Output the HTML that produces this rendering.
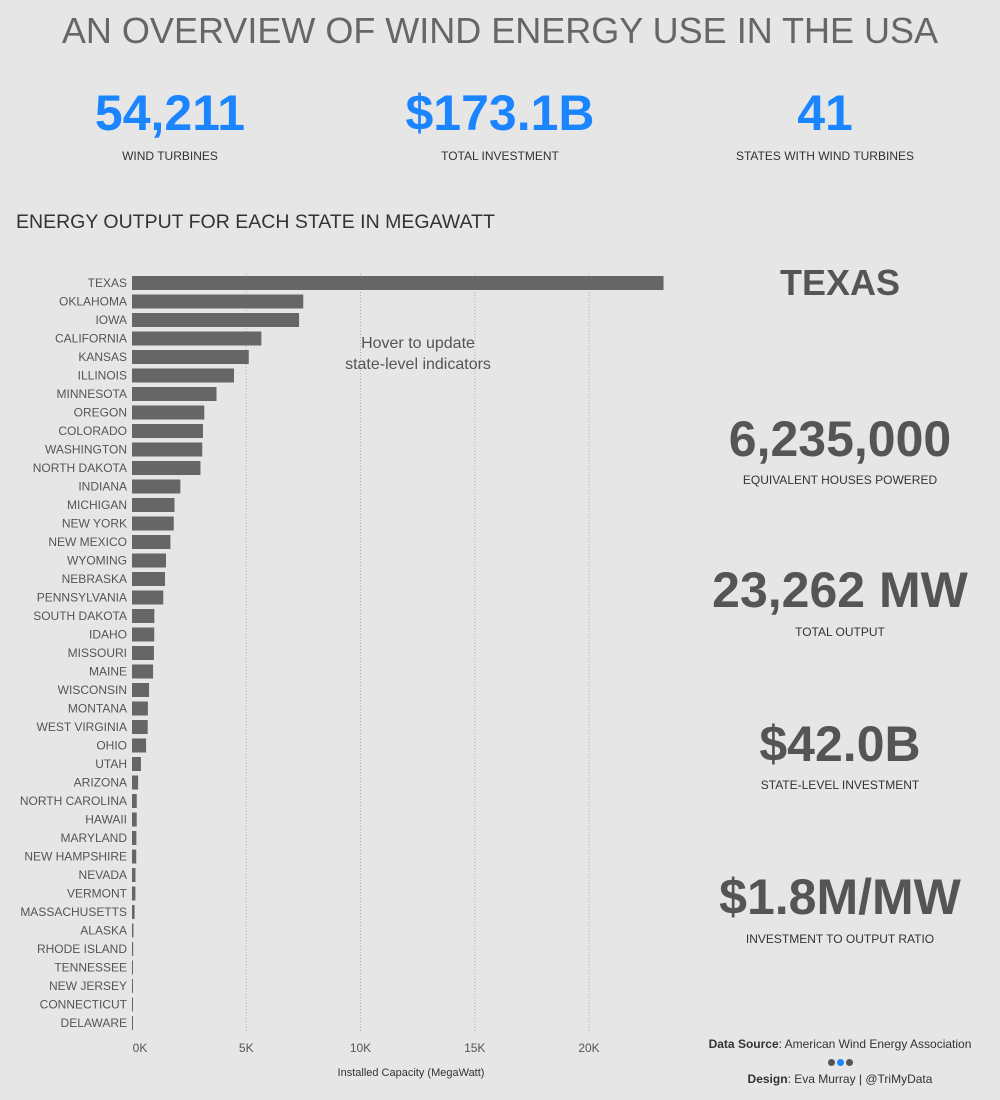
<!DOCTYPE html>
<html><head><meta charset="utf-8"><style>
body{margin:0;background:#e6e6e6;font-family:"Liberation Sans",sans-serif;}
#root{position:relative;width:1000px;height:1100px;overflow:hidden;}
.abs{position:absolute;}
.c{text-align:center;}
.kpi{color:#1a85ff;font-weight:bold;font-size:50px;}
.kl{font-size:12px;color:#333;}
.big{color:#555;font-weight:bold;font-size:50px;}
.bl{font-size:12px;color:#333;}
</style></head><body>
<div id="root">
<div class="abs c" style="left:0;width:1000px;top:10px;font-size:36px;color:#666;">AN OVERVIEW OF WIND ENERGY USE IN THE USA</div>
<div class="abs c kpi" style="left:70px;width:200px;top:84px">54,211</div>
<div class="abs c kl" style="left:70px;width:200px;top:149px">WIND TURBINES</div>
<div class="abs c kpi" style="left:350px;width:300px;top:84px">$173.1B</div>
<div class="abs c kl" style="left:350px;width:300px;top:149px">TOTAL INVESTMENT</div>
<div class="abs c kpi" style="left:700px;width:250px;top:84px">41</div>
<div class="abs c kl" style="left:700px;width:250px;top:149px">STATES WITH WIND TURBINES</div>
<div class="abs" style="left:16px;top:211px;font-size:19.5px;color:#333">ENERGY OUTPUT FOR EACH STATE IN MEGAWATT</div>
<svg class="abs" style="left:0;top:0" width="700" height="1100" id="chart"></svg>
<div class="abs c" style="left:318px;width:200px;top:333px;font-size:16px;color:#555;line-height:21px">Hover to update<br>state-level indicators</div>
<div class="abs c big" style="left:690px;width:300px;top:262px;font-size:36px">TEXAS</div>
<div class="abs c big" style="left:690px;width:300px;top:410px">6,235,000</div>
<div class="abs c bl" style="left:690px;width:300px;top:473px">EQUIVALENT HOUSES POWERED</div>
<div class="abs c big" style="left:690px;width:300px;top:561px">23,262 MW</div>
<div class="abs c bl" style="left:690px;width:300px;top:625px">TOTAL OUTPUT</div>
<div class="abs c big" style="left:690px;width:300px;top:715px">$42.0B</div>
<div class="abs c bl" style="left:690px;width:300px;top:778px">STATE-LEVEL INVESTMENT</div>
<div class="abs c big" style="left:690px;width:300px;top:868px">$1.8M/MW</div>
<div class="abs c bl" style="left:690px;width:300px;top:932px">INVESTMENT TO OUTPUT RATIO</div>
<div class="abs c" style="left:690px;width:300px;top:1037px;font-size:12px;color:#333"><b>Data Source</b>: American Wind Energy Association</div>
<div class="abs c" style="left:690px;width:300px;top:1053px"><span style="display:inline-block;width:7px;height:7px;border-radius:50%;background:#555;margin:0 1px"></span><span style="display:inline-block;width:7px;height:7px;border-radius:50%;background:#1a85ff;margin:0 1px"></span><span style="display:inline-block;width:7px;height:7px;border-radius:50%;background:#555;margin:0 1px"></span></div>
<div class="abs c" style="left:690px;width:300px;top:1072px;font-size:12px;color:#333"><b>Design</b>: Eva Murray | @TriMyData</div>
</div>
<script>
const states=["TEXAS","OKLAHOMA","IOWA","CALIFORNIA","KANSAS","ILLINOIS","MINNESOTA","OREGON","COLORADO","WASHINGTON","NORTH DAKOTA","INDIANA","MICHIGAN","NEW YORK","NEW MEXICO","WYOMING","NEBRASKA","PENNSYLVANIA","SOUTH DAKOTA","IDAHO","MISSOURI","MAINE","WISCONSIN","MONTANA","WEST VIRGINIA","OHIO","UTAH","ARIZONA","NORTH CAROLINA","HAWAII","MARYLAND","NEW HAMPSHIRE","NEVADA","VERMONT","MASSACHUSETTS","ALASKA","RHODE ISLAND","TENNESSEE","NEW JERSEY","CONNECTICUT","DELAWARE"];
const capacity=[23262,7495,7312,5662,5110,4464,3699,3163,3106,3075,2996,2117,1861,1827,1682,1489,1445,1369,977,973,959,923,746,695,686,617,391,268,208,206,191,185,152,149,115,62,52,29,9,5,2];
const ticks=[0,5000,10000,15000,20000];
const tickLabels=["0K","5K","10K","15K","20K"];
const svg=document.getElementById('chart');const NS='http://www.w3.org/2000/svg';
const x=v=>132+v*(589-132)/20000;
const y=i=>283+i*18.5;
function mk(t,a){const e=document.createElementNS(NS,t);for(const k in a)e.setAttribute(k,a[k]);svg.appendChild(e);return e;}
ticks.forEach((t,i)=>{
 if(t>0){const g=mk('line',{x1:x(t),x2:x(t),y1:274,y2:1032,stroke:'#aaa','stroke-dasharray':'1,2'});
 
 }
 const l=mk('text',{x:x(t)+(t==0?8:0),y:1052,'text-anchor':'middle','font-size':12,fill:'#555','font-family':'Liberation Sans'});l.textContent=tickLabels[i];
 
 
});
const at=mk('text',{x:411,y:1076,'text-anchor':'middle','font-size':11,fill:'#333','font-family':'Liberation Sans'});at.textContent='Installed Capacity (MegaWatt)';


states.forEach((s,i)=>{
 const r=mk('rect',{x:x(0),y:y(i)-7,width:Math.max(1,x(capacity[i])-x(0)),height:14,fill:'#666'});
 
 
 const t=mk('text',{x:127,y:y(i)+4,'text-anchor':'end','font-size':12,fill:'#555','font-family':'Liberation Sans'});t.textContent=s;
 
 
});
</script>
</body></html>
